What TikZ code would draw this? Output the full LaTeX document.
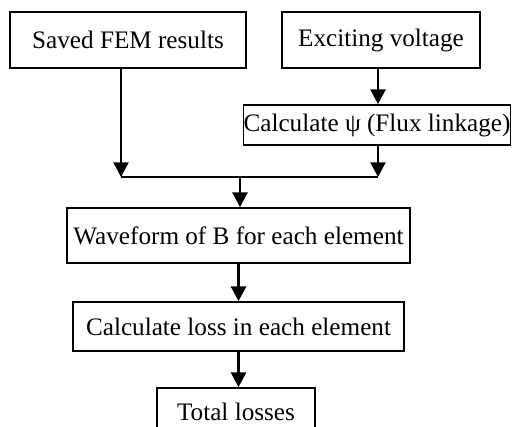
\documentclass[tikz,border=0pt]{standalone}
\usepackage{fontspec}
\setmainfont{Liberation Serif}
\usetikzlibrary{arrows.meta}
\usetikzlibrary{positioning}
\tikzset{box/.style = {draw, line width = 1.5pt, inner sep = 0, align = center, font = \fontsize{21.5}{25}\selectfont}}
\tikzset{arr/.style = {line width = 2pt, -{Triangle[length = 0.44cm, width = 0.45cm]}}}

\begin{document}
\begin{tikzpicture}
      \useasboundingbox (0, 0) rectangle (15.36, 12.78);
      \clip (0, 0) rectangle (15.36, 12.78);

      \node [box, minimum width = 7.08cm, minimum height = 1.68cm] (fem) at (3.84, 11.58) {Saved FEM results};
      \node [box, minimum width = 5.94cm, minimum height = 1.68cm] (volt) at (11.43, 11.58) {Exciting voltage};
      \node [box, minimum width = 7.98cm, minimum height = 1.2cm] (psi) at (11.31, 9.03) {Calculate ψ (Flux linkage)};
      \node [box, minimum width = 10.29cm, minimum height = 1.65cm] (wave) at (7.155, 5.715) {Waveform of B for each element};
      \node [box, minimum width = 9.93cm, minimum height = 1.47cm] (loss) at (7.155, 2.985) {Calculate loss in each element};
      \node [box, minimum width = 4.74cm, minimum height = 1.44cm] (total) at (7.08, 0.42) {Total losses};

      % junction above the waveform box
      \coordinate (jl) at (3.63, 7.47);
      \coordinate (jr) at (11.34, 7.47);
      \coordinate (jm) at (7.2, 7.47);

      \draw [arr] (fem.south -| jl) -- (jl);
      \draw [arr] (volt.south -| jr) -- (psi.north -| jr);
      \draw [arr] (psi.south -| jr) -- (jr);
      \draw [line width = 2pt] (jl) -- (jr);
      \draw [arr] (jm) -- (wave.north -| jm);
      \draw [arr] (wave.south) -- (loss.north);
      \draw [arr] (loss.south) -- (loss.south |- total.north);
    \end{tikzpicture}
\end{document}
